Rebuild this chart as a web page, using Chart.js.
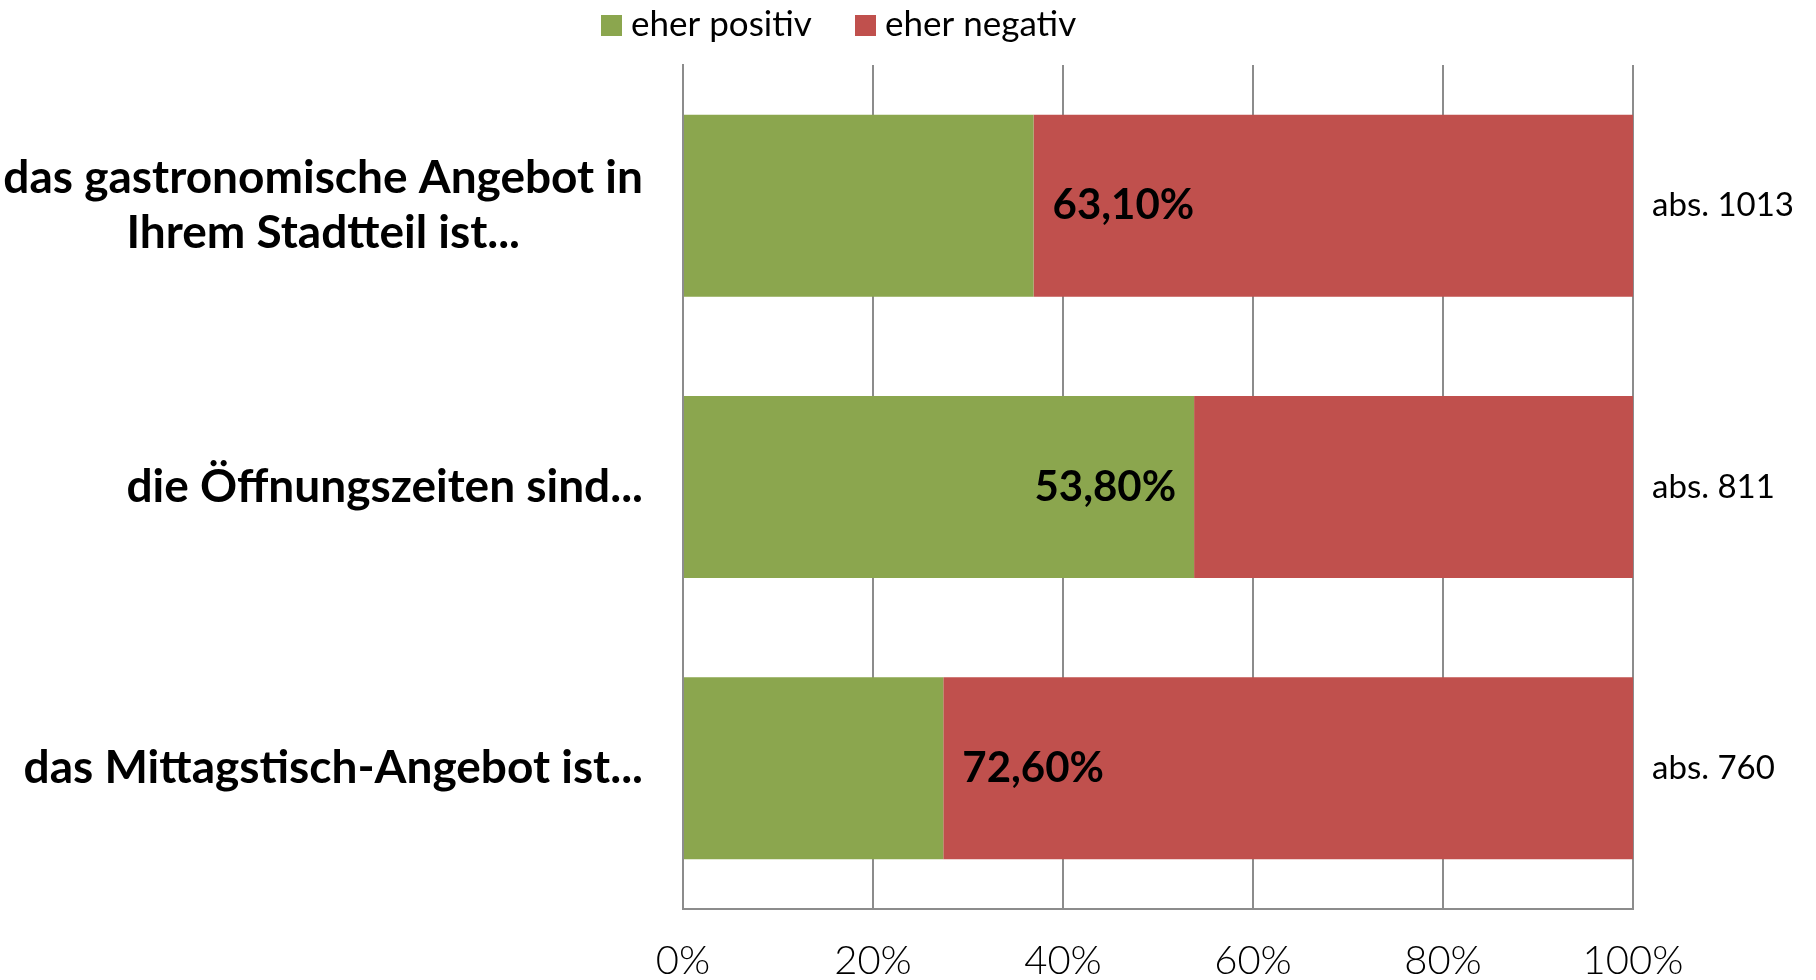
<!DOCTYPE html>
<html>
<head>
<meta charset="utf-8">
<script src="https://cdn.jsdelivr.net/npm/chart.js@4"></script>
<style>
  html, body { margin: 0; padding: 0; background: #fff; }
  #wrap { width: 1816px; height: 980px; }
</style>
</head>
<body>
<div id="wrap"><canvas id="umfrageChart" width="1816" height="980"></canvas></div>
<script>
const categories = [
  ['das gastronomische Angebot in', 'Ihrem Stadtteil ist...'],
  'die Öffnungszeiten sind...',
  'das Mittagstisch-Angebot ist...'
];
const positiveValues = [36.9, 53.8, 27.4];
const negativeValues = [63.1, 46.2, 72.6];
const absCounts = [1013, 811, 760];
const seriesNames = ['eher positiv', 'eher negativ'];
const xTicks = [0, 20, 40, 60, 80, 100];

const fontFamily = 'Lato, "Open Sans", sans-serif';
const yFont = { family: fontFamily, size: 46, weight: 'bold', lineHeight: 1.18 };

function formatPct(v) {
  return v.toFixed(2).replace('.', ',') + '%';
}

// multi-line labels are centred on each other, the block stays right-aligned
const measureCtx = document.createElement('canvas').getContext('2d');
function centerLines(label) {
  if (!Array.isArray(label)) return label;
  measureCtx.font = yFont.weight + ' ' + yFont.size + 'px ' + yFont.family;
  const widths = label.map(l => measureCtx.measureText(l).width);
  const maxW = Math.max(...widths);
  const nbsp = measureCtx.measureText('\u00A0').width;
  return label.map((l, i) => {
    const n = Math.round((maxW - widths[i]) / 2 / nbsp);
    return l + '\u00A0'.repeat(n);
  });
}

// draws the legend, the value labels and the "abs." counts
const labelPlugin = {
  id: 'labelPlugin',
  afterDatasetsDraw(chart) {
    const ctx = chart.ctx;
    const area = chart.chartArea;
    const metaPos = chart.getDatasetMeta(0);
    const metaNeg = chart.getDatasetMeta(1);

    ctx.save();
    ctx.textBaseline = 'middle';

    // value labels at the boundary of the larger segment
    ctx.font = 'bold 42px ' + fontFamily;
    ctx.fillStyle = '#000';
    categories.forEach((_, i) => {
      const pos = metaPos.data[i];
      const neg = metaNeg.data[i];
      if (positiveValues[i] > negativeValues[i]) {
        ctx.textAlign = 'right';
        ctx.fillText(formatPct(positiveValues[i]), pos.x - 18, pos.y);
      } else {
        ctx.textAlign = 'left';
        ctx.fillText(formatPct(negativeValues[i]), neg.base + 19, neg.y);
      }
    });

    // absolute counts right of the plot
    ctx.font = '33px ' + fontFamily;
    ctx.textAlign = 'left';
    categories.forEach((_, i) => {
      const neg = metaNeg.data[i];
      ctx.fillText('abs. ' + absCounts[i], area.right + 19, neg.y);
    });

    // legend
    ctx.font = '35px ' + fontFamily;
    const legendX = [601, 855];
    chart.data.datasets.forEach((ds, i) => {
      ctx.fillStyle = ds.backgroundColor;
      ctx.fillRect(legendX[i], 15, 21, 21);
      ctx.fillStyle = '#000';
      ctx.fillText(ds.label, legendX[i] + 30, 25);
    });
    ctx.restore();
  }
};

new Chart(document.getElementById('umfrageChart'), {
  type: 'bar',
  data: {
    labels: categories,
    datasets: [{
      label: seriesNames[0],
      data: positiveValues,
      backgroundColor: '#8BA64E',
      barPercentage: 0.647,
      categoryPercentage: 1
    }, {
      label: seriesNames[1],
      data: negativeValues,
      backgroundColor: '#C0504D',
      barPercentage: 0.647,
      categoryPercentage: 1
    }]
  },
  options: {
    indexAxis: 'y',
    responsive: false,
    animation: false,
    layout: {
      padding: { top: 65, right: 183, bottom: 0, left: 0 }
    },
    scales: {
      x: {
        stacked: true,
        min: 0,
        max: 100,
        afterBuildTicks: scale => {
          scale.ticks = xTicks.map(v => ({ value: v }));
        },
        afterFit: scale => {
          scale.height = 71;
          scale.paddingLeft = 0;
          scale.paddingRight = 0;
        },
        grid: {
          color: '#8C8C8C',
          lineWidth: 2,
          drawTicks: false
        },
        border: { color: '#8C8C8C', width: 2 },
        ticks: {
          padding: 28,
          color: '#000',
          font: { family: fontFamily, size: 40, weight: '300' },
          callback: v => v + '%'
        }
      },
      y: {
        stacked: true,
        afterFit: scale => {
          scale.width = 683;
          scale.paddingTop = 0;
          scale.paddingBottom = 0;
        },
        grid: { display: false, drawTicks: false },
        border: { color: '#8C8C8C', width: 2 },
        ticks: {
          padding: 40,
          color: '#000',
          font: yFont,
          callback: function(value) {
            return centerLines(this.getLabelForValue(value));
          }
        }
      }
    },
    plugins: {
      legend: { display: false },
      tooltip: { enabled: false }
    }
  },
  plugins: [labelPlugin]
});
</script>
</body>
</html>
